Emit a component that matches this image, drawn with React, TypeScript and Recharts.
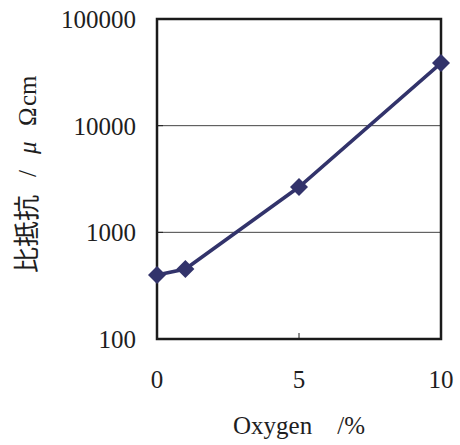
import { CartesianGrid, Line, LineChart, ReferenceArea, XAxis, YAxis } from "recharts";

const oxygen = [0, 1, 5, 10];
const resistivity = [398, 453, 2660, 38600];
const xTicks = [0, 5, 10];
const yTicks = [100, 1000, 10000, 100000];

const data = oxygen.map((o, i) => ({ oxygen: o, rho: resistivity[i] }));

const NAVY = "#32336b";
const SERIF = '"Liberation Serif", "Times New Roman", serif';
const CJK = '"Noto Sans CJK JP", "Noto Sans CJK SC", sans-serif';
const INK = "#1e1e1e";

const XTick = ({ x, y, payload }: any) => (
  <g>
    <line x1={x} x2={x} y1={y} y2={y - 6} stroke={INK} strokeWidth={1} />
    <text x={x} y={y + 49} textAnchor="middle" fontSize={25} style={{ fontFamily: SERIF }} fill={INK}>
      {payload.value}
    </text>
  </g>
);

const YTick = ({ x, y, payload }: any) => (
  <g>
    <line x1={x} x2={x + 6} y1={y} y2={y} stroke={INK} strokeWidth={1} />
    <text x={x - 21} y={y + 9} textAnchor="end" fontSize={25} style={{ fontFamily: SERIF }} fill={INK}>
      {payload.value}
    </text>
  </g>
);

const XLabel = ({ viewBox }: any) => (
  <text
    x={viewBox.x + viewBox.width / 2}
    y={434}
    textAnchor="middle"
    fontSize={25}
    style={{ fontFamily: SERIF, whiteSpace: "pre" }}
    fill={INK}
  >
    {"Oxygen    /%"}
  </text>
);

// rotated label, pieces placed along the text direction
const YLabel = () => (
  <text transform="translate(36, 273) rotate(-90)" fontSize={25} fill={INK}>
    <tspan x={0} style={{ fontFamily: CJK, fontSize: 26 }}>比抵抗</tspan>
    <tspan x={96} style={{ fontFamily: SERIF }}>/</tspan>
    <tspan x={119} style={{ fontFamily: SERIF, fontStyle: "italic" }}>μ</tspan>
    <tspan x={147} style={{ fontFamily: SERIF }}>Ω</tspan>
    <tspan x={167} style={{ fontFamily: SERIF }}>cm</tspan>
  </text>
);

const Diamond = ({ cx, cy }: any) => (
  <polygon
    points={`${cx},${cy - 9} ${cx + 9},${cy} ${cx},${cy + 9} ${cx - 9},${cy}`}
    fill={NAVY}
  />
);

export default function App() {
  return (
    <div style={{ position: "absolute", left: 0, top: 0, background: "#fff" }}>
      <LineChart width={460} height={445} data={data} margin={{ top: 19, right: 19, left: 0, bottom: 0 }}>
        <CartesianGrid vertical={false} stroke="#444" strokeWidth={1} />
        <XAxis
          dataKey="oxygen"
          type="number"
          domain={[0, 10]}
          ticks={xTicks}
          height={106}
          axisLine={false}
          tickLine={false}
          tickSize={0}
          tickMargin={0}
          tick={<XTick />}
          label={<XLabel />}
        />
        <YAxis
          scale="log"
          domain={[100, 100000]}
          ticks={yTicks}
          allowDataOverflow
          width={157}
          axisLine={false}
          tickLine={false}
          tickSize={0}
          tickMargin={0}
          tick={<YTick />}
          label={<YLabel />}
        />
        <ReferenceArea x1={0} x2={10} y1={100} y2={100000} fill="none" stroke="#1a1a1a" strokeWidth={2.5} />
        <Line
          dataKey="rho"
          stroke={NAVY}
          strokeWidth={3.5}
          dot={<Diamond />}
          activeDot={false}
          isAnimationActive={false}
        />
      </LineChart>
    </div>
  );
}
